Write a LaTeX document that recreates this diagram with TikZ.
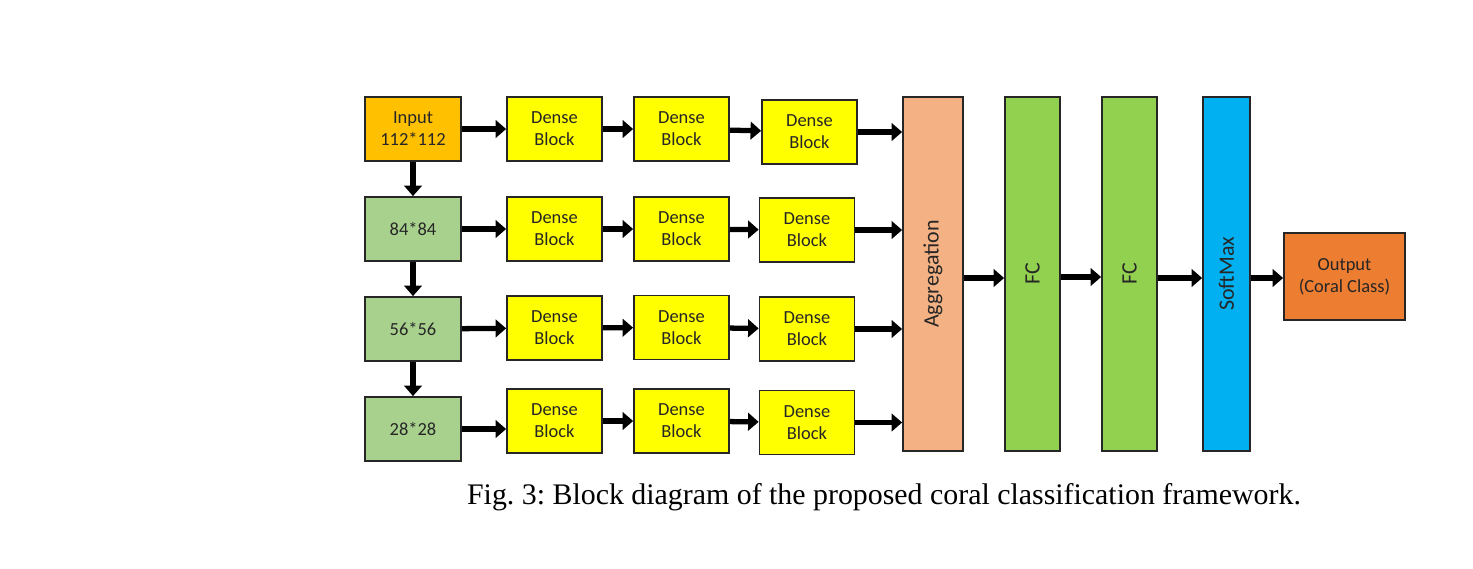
\documentclass[tikz,border=0pt]{standalone}
\usepackage{fontspec}
\setmainfont{Liberation Serif}
\newfontfamily\boxfont{Carlito}
\usetikzlibrary{arrows.meta,positioning}

\definecolor{inorange}{HTML}{FFC000}
\definecolor{scalegreen}{HTML}{A9D18E}
\definecolor{denseyellow}{HTML}{FFFF00}
\definecolor{aggpeach}{HTML}{F4B183}
\definecolor{fcgreen}{HTML}{92D050}
\definecolor{smblue}{HTML}{00B0F0}
\definecolor{outorange}{HTML}{ED7D31}

\tikzset{
  blk/.style={draw=black!85, line width=1pt, inner sep=0pt, align=center,
    font=\boxfont\fontsize{10.5}{12.5}\selectfont, text=black!85},
  dense/.style={blk, fill=denseyellow, minimum width=1.9cm, minimum height=1.28cm},
  scl/.style={blk, fill=scalegreen, minimum width=1.92cm, minimum height=1.28cm},
  tall/.style={blk, minimum height=7.08cm},
  vlabel/.style={rotate=90, font=\boxfont\fontsize{12.5}{14}\selectfont, text=black!85},
  conn/.style={line width=3pt, -{Triangle[length=6pt,width=10pt]}}
}

\begin{document}
\begin{tikzpicture}
    \useasboundingbox (0,0) rectangle (29.46,-11.36);

    % input and scaled copies
    \node[scl, fill=inorange] (in) at (8.26,-2.58) {Input\\112*112};
    \node[scl] (s84) at (8.26,-4.58) {84*84};
    \node[scl] (s56) at (8.26,-6.58) {56*56};
    \node[scl] (s28) at (8.26,-8.58) {28*28};

    % dense blocks
    \node[dense] (d11) at (11.09,-2.58) {Dense\\Block};
    \node[dense] (d12) at (13.63,-2.58) {Dense\\Block};
    \node[dense] (d13) at (16.19,-2.64) {Dense\\Block};

    \node[dense] (d21) at (11.09,-4.58) {Dense\\Block};
    \node[dense] (d22) at (13.63,-4.58) {Dense\\Block};
    \node[dense] (d23) at (16.14,-4.60) {Dense\\Block};

    \node[dense] (d31) at (11.09,-6.56) {Dense\\Block};
    \node[dense] (d32) at (13.63,-6.55) {Dense\\Block};
    \node[dense] (d33) at (16.14,-6.58) {Dense\\Block};

    \node[dense] (d41) at (11.09,-8.42) {Dense\\Block};
    \node[dense] (d42) at (13.63,-8.42) {Dense\\Block};
    \node[dense] (d43) at (16.14,-8.45) {Dense\\Block};

    % tall blocks
    \node[tall, fill=aggpeach, minimum width=1.2cm,
      label={[vlabel]center:Aggregation}] (agg) at (18.66,-5.48) {};
    \node[tall, fill=fcgreen, minimum width=1.1cm,
      label={[vlabel]center:FC}] (fc1) at (20.65,-5.48) {};
    \node[tall, fill=fcgreen, minimum width=1.1cm,
      label={[vlabel]center:FC}] (fc2) at (22.59,-5.48) {};
    \node[tall, fill=smblue, minimum width=0.94cm,
      label={[vlabel]center:SoftMax}] (sm) at (24.53,-5.48) {};

    \node[blk, fill=outorange, minimum width=2.42cm, minimum height=1.74cm] (out) at (26.89,-5.53) {Output\\(Coral Class)};

    % connectors
    \draw[conn] (in) -- (s84);
    \draw[conn] (s84) -- (s56);
    \draw[conn] (s56) -- (s28);

    \draw[conn] (in) -- (d11);
    \draw[conn] (s84) -- (d21);
    \draw[conn] (s56) -- (d31);
    \draw[conn] (s28.east) -- (d41.west |- s28.east);

    \foreach \r in {1,2,3,4} {
      \draw[conn] (d\r1) -- (d\r2);
      \draw[conn] (d\r2) -- (d\r3);
      \draw[conn] (d\r3.east) -- (d\r3.east -| agg.west);
    }

    \draw[conn] (agg.east |- 0,-5.56) -- (fc1.west |- 0,-5.56);
    \draw[conn] (fc1.east |- 0,-5.54) -- (fc2.west |- 0,-5.54);
    \draw[conn] (fc2.east |- 0,-5.56) -- (sm.west |- 0,-5.56);
    \draw[conn] (sm.east |- 0,-5.56) -- (out.west |- 0,-5.56);

    \node[font=\fontsize{17}{20}\selectfont\frenchspacing] (cap) at (17.68,-9.94) {Fig. 3: Block diagram of the proposed coral classification framework.};

\end{tikzpicture}
\end{document}
